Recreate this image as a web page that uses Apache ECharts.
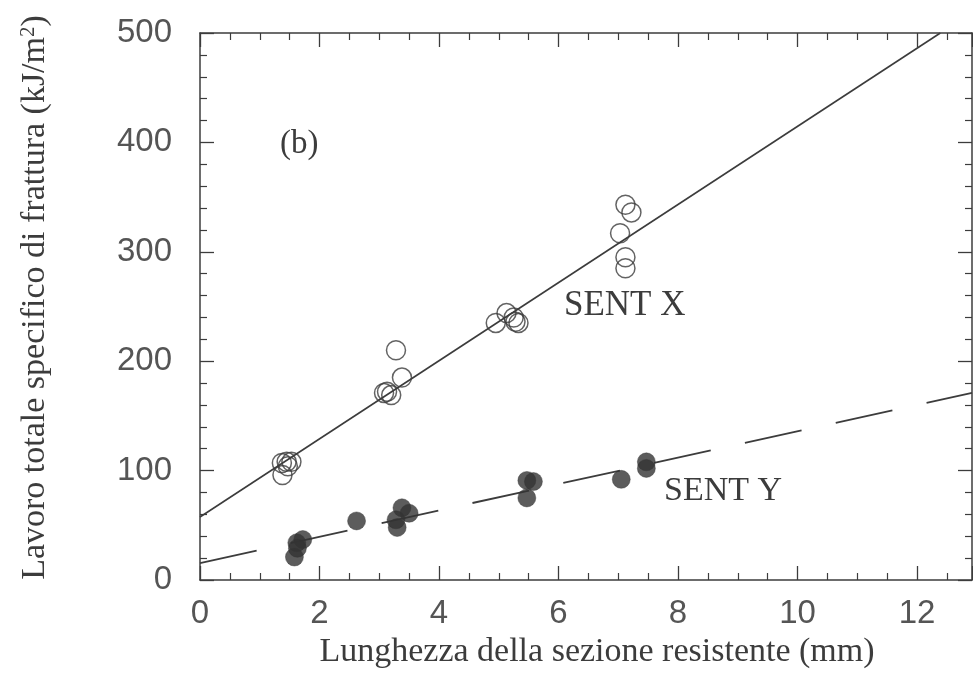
<!DOCTYPE html>
<html>
<head>
<meta charset="utf-8">
<script src="https://cdn.jsdelivr.net/npm/echarts@6/dist/echarts.min.js"></script>
<style>
html,body{margin:0;padding:0;background:#fff;}
#chart{width:973px;height:675px;}
</style>
</head>
<body>
<div id="chart"></div>
<script>
// ---- data ----
var sentX = [
  [1.38, 96], [1.37, 107], [1.45, 108], [1.53, 108], [1.47, 104],
  [3.08, 171], [3.20, 169], [3.13, 172], [3.28, 210], [3.38, 185],
  [4.95, 235], [5.13, 244], [5.25, 240], [5.33, 235], [5.28, 236],
  [7.12, 343], [7.22, 336], [7.03, 317], [7.12, 295], [7.12, 285]
];
var sentY = [
  [1.58, 21], [1.62, 34], [1.72, 37], [1.63, 29],
  [2.62, 54],
  [3.30, 48], [3.38, 66], [3.50, 61], [3.28, 55],
  [5.47, 91], [5.47, 75], [5.58, 90],
  [7.05, 92], [7.47, 108], [7.47, 102]
];
var sentXFit = [[0, 57.6], [12.39, 500]];
var sentYFit = [[0, 15.5], [12.92, 171]];
var xTitle = 'Lunghezza della sezione resistente (mm)';
var yTitleMain = 'Lavoro totale specifico di frattura (kJ/m';
var yTitleSup = '2';
var labelX = 'SENT X';
var labelY = 'SENT Y';
var panelLabel = '(b)';

var ink = '#3c3c3c';
var serif = '"Liberation Serif","Times New Roman",serif';
var sans = '"Liberation Sans",Arial,sans-serif';

var chart = echarts.init(document.getElementById('chart'));
var axisCommon = {
  axisLine: {show: true, onZero: false, lineStyle: {color: ink, width: 1.5}},
  axisTick: {show: true, inside: true, length: 14, lineStyle: {color: ink, width: 1.3}},
  minorTick: {show: true, length: 7, lineStyle: {color: ink, width: 1.2}},
  splitLine: {show: false}
};
chart.setOption({
  backgroundColor: '#ffffff',
  animation: false,
  grid: {left: 200, top: 33, right: 1, bottom: 95},
  xAxis: [
    Object.assign({}, axisCommon, {
      type: 'value', min: 0, max: 12.92, interval: 2, position: 'bottom',
      minorTick: Object.assign({}, axisCommon.minorTick, {splitNumber: 4}),
      axisLabel: {show: true, margin: 17, fontFamily: sans, fontSize: 33, color: '#555', showMaxLabel: false},
      name: xTitle, nameLocation: 'middle', nameGap: 50,
      nameTextStyle: {fontFamily: serif, fontSize: 34, color: ink, padding: [0, 0, 0, 22]}
    }),
    Object.assign({}, axisCommon, {
      type: 'value', min: 0, max: 12.92, interval: 2, position: 'top',
      minorTick: Object.assign({}, axisCommon.minorTick, {splitNumber: 4}),
      axisLabel: {show: false}
    })
  ],
  yAxis: [
    Object.assign({}, axisCommon, {
      type: 'value', min: 0, max: 500, interval: 100, position: 'left',
      minorTick: Object.assign({}, axisCommon.minorTick, {splitNumber: 5}),
      axisLabel: {show: true, margin: 28, fontFamily: sans, fontSize: 33, color: '#555'},
      name: '{m|' + yTitleMain + '}{s|' + yTitleSup + '}{m|)}',
      nameLocation: 'middle', nameGap: 147, nameRotate: 90,
      nameTextStyle: {
        color: ink, padding: [0, 0, 0, 18],
        rich: {
          m: {fontFamily: serif, fontSize: 34, color: ink},
          s: {fontFamily: serif, fontSize: 21, color: ink, verticalAlign: 'top', padding: [0, 0, 14, 0]}
        }
      }
    }),
    Object.assign({}, axisCommon, {
      type: 'value', min: 0, max: 500, interval: 100, position: 'right',
      minorTick: Object.assign({}, axisCommon.minorTick, {splitNumber: 5}),
      axisLabel: {show: false}
    })
  ],
  series: [
    {
      name: 'SENT X fit', type: 'line', data: sentXFit, showSymbol: false, symbol: 'none',
      lineStyle: {color: ink, width: 1.6}, clip: true, z: 2
    },
    {
      name: 'SENT Y fit', type: 'line', data: sentYFit, showSymbol: false, symbol: 'none',
      lineStyle: {color: ink, width: 1.8, type: [58, 35]}, clip: true, z: 2
    },
    {
      name: 'SENT X', type: 'scatter', data: sentX, symbol: 'circle', symbolSize: 19,
      itemStyle: {color: 'rgba(255,255,255,0)', borderColor: ink, borderWidth: 1.5}, z: 3
    },
    {
      name: 'SENT Y', type: 'scatter', data: sentY, symbol: 'circle', symbolSize: 18,
      itemStyle: {color: '#333333', borderColor: '#333333', borderWidth: 0.5}, z: 3
    }
  ],
  graphic: [
    {type: 'text', left: 280, top: 128, style: {text: panelLabel, font: '33px ' + serif, fill: ink}},
    {type: 'text', left: 564, top: 288, style: {text: labelX, font: '35px ' + serif, fill: ink}},
    {type: 'text', left: 664, top: 474, style: {text: labelY, font: '34px ' + serif, fill: ink}}
  ]
});
</script>
</body>
</html>
